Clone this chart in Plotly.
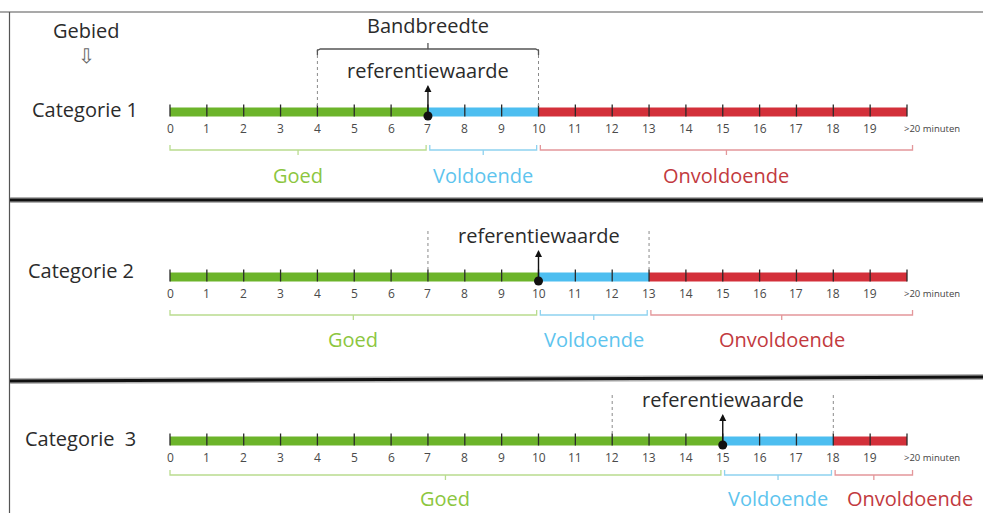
import plotly.graph_objects as go

# ---------------- data ----------------
categories = ["Categorie 1", "Categorie 2", "Categorie  3"]
reference_values = [7, 10, 15]
band_lower = [4, 7, 12]
band_upper = [10, 13, 18]
scale_max = 20
tick_values = [0, 1, 2, 3, 4, 5, 6, 7, 8, 9, 10, 11, 12, 13, 14, 15, 16, 17, 18, 19, 20]
tick_labels = ["0", "1", "2", "3", "4", "5", "6", "7", "8", "9", "10",
               "11", "12", "13", "14", "15", "16", "17", "18", "19", ">20 minuten"]
zone_names = ["Goed", "Voldoende", "Onvoldoende"]
header_label = "Gebied"
band_label = "Bandbreedte"
reference_label = "referentiewaarde"

# ---------------- layout / style ----------------
W, H = 983, 513
PX0, PX_UNIT = 170.0, 36.85
row_y = [112, 277, 441]
bracket_off = [38, 38, 34]
label_off = [63, 62, 57]
cat_pos = [(85, -3), (81, -7), (80, -3)]
zone_bar_colors = ["#6cb42a", "#4dbef0", "#d3303a"]
zone_text_colors = ["#8cc640", "#5ec4ee", "#c23a3e"]
zone_bracket_colors = ["#b9dc8f", "#8fd2ef", "#e3979a"]
FONT = "Open Sans"
TEXT_COLOR = "#2b2b2b"
BIG = 20


def px(p):
    """page pixel -> paper x"""
    return p / W


fig = go.Figure()
shapes = []
annotations = []


def add_line(xs, ys, color, width, dash="solid"):
    fig.add_trace(go.Scatter(x=xs, y=ys, mode="lines", hoverinfo="skip",
                             line=dict(color=color, width=width, dash=dash)))


def bracket_below(a, b, y, color):
    mid = (a + b) / 2
    add_line([a, a, b, b, None, mid, mid],
             [y - 5, y, y, y - 5, None, y, y + 5], color, 1.3)


for i, cat in enumerate(categories):
    ry = row_y[i]
    ref = reference_values[i]
    lo, hi = band_lower[i], band_upper[i]
    bounds = [(0, ref), (ref, hi), (hi, scale_max)]

    # coloured scale bar
    for (a, b), col in zip(bounds, zone_bar_colors):
        shapes.append(dict(type="rect", xref="x", yref="y", x0=a, x1=b,
                           y0=ry - 4.5, y1=ry + 4.5, fillcolor=col,
                           line=dict(width=0), layer="below"))
    # tick marks
    tx, ty = [], []
    for t in tick_values:
        tx += [t, t, None]
        ty += [ry - 7.5, ry + 4.5, None]
    add_line(tx, ty, "#2a2a2a", 1.3)
    # tick labels
    for t, lab in zip(tick_values, tick_labels):
        if t == scale_max:
            annotations.append(dict(x=t, y=ry + 16, xref="x", yref="y", text=lab,
                                    showarrow=False, xanchor="left", xshift=-5,
                                    font=dict(family=FONT, size=9.5, color="#444")))
        else:
            annotations.append(dict(x=t, y=ry + 16, xref="x", yref="y", text=lab,
                                    showarrow=False, xanchor="center",
                                    font=dict(family=FONT, size=12, color="#4a4a4a")))

    # dotted band lines
    top = ry - 63 if i == 0 else ry - 46
    for v in (lo, hi):
        add_line([v, v], [top, ry - 4.5], "#8a8a8a", 1, "dot")

    # band bracket for first row
    if i == 0:
        by = ry - 63
        mid = (lo + hi) / 2
        add_line([lo, lo, lo + 0.08, hi - 0.08, hi, hi, None, mid, mid],
                 [by + 6, by + 1.5, by, by, by + 1.5, by + 6, None, by, by - 6],
                 "#555555", 1.3)
        annotations.append(dict(x=mid, y=by - 24, xref="x", yref="y", text=band_label,
                                showarrow=False,
                                font=dict(family=FONT, size=BIG, color=TEXT_COLOR)))

    # reference arrow + dot
    annotations.append(dict(x=ref, y=ry - 27, xref="x", yref="y", ax=ref, ay=ry + 4,
                            axref="x", ayref="y", text="", showarrow=True,
                            arrowhead=2, arrowsize=1, arrowwidth=1.4,
                            arrowcolor="#111"))
    fig.add_trace(go.Scatter(x=[ref], y=[ry + 4], mode="markers", hoverinfo="skip",
                             marker=dict(color="#111", size=9)))
    annotations.append(dict(x=ref, y=ry - 42, xref="x", yref="y", text=reference_label,
                            showarrow=False,
                            font=dict(family=FONT, size=BIG, color=TEXT_COLOR)))

    # zone brackets + labels
    gap = 0.05
    zone_spans = [(0, ref - gap), (ref + gap, hi - gap), (hi + gap, scale_max + 0.15)]
    for z, ((a, b), name) in enumerate(zip(zone_spans, zone_names)):
        bracket_below(a, b, ry + bracket_off[i], zone_bracket_colors[z])
        shift = 36 if (i == 2 and z == 2) else 0
        annotations.append(dict(x=(a + b) / 2, y=ry + label_off[i], xref="x", yref="y",
                                text=name, showarrow=False, xshift=shift,
                                font=dict(family=FONT, size=BIG, color=zone_text_colors[z])))

    # category label
    cx, cdy = cat_pos[i]
    annotations.append(dict(x=px(cx), y=ry + cdy, xref="paper", yref="y",
                            text=cat, showarrow=False, xanchor="center",
                            font=dict(family=FONT, size=BIG, color=TEXT_COLOR)))

# header
annotations.append(dict(x=px(86), y=30, xref="paper", yref="y", text=header_label,
                        showarrow=False, xanchor="center",
                        font=dict(family=FONT, size=BIG, color=TEXT_COLOR)))
annotations.append(dict(x=px(86), y=56, xref="paper", yref="y", text="⇩",
                        showarrow=False, xanchor="center",
                        font=dict(family="DejaVu Sans", size=20, color="#666")))

# frame lines
shapes.append(dict(type="line", xref="paper", yref="y", x0=0, x1=1, y0=12, y1=12,
                   line=dict(color="#555", width=1.2)))
shapes.append(dict(type="line", xref="paper", yref="y", x0=px(9.5), x1=px(9.5), y0=12, y1=H,
                   line=dict(color="#555", width=1.2)))
for sy0, sy1 in ((200, 200), (381, 377)):
    shapes.append(dict(type="line", xref="paper", yref="y", x0=px(10), x1=1,
                       y0=sy0, y1=sy1, line=dict(color="#b0b0b0", width=6)))
    shapes.append(dict(type="line", xref="paper", yref="y", x0=px(10), x1=1,
                       y0=sy0, y1=sy1, line=dict(color="#111", width=3)))

fig.update_layout(
    width=W, height=H,
    margin=dict(l=0, r=0, t=0, b=0),
    paper_bgcolor="white", plot_bgcolor="white",
    showlegend=False,
    xaxis=dict(range=[-PX0 / PX_UNIT, (W - PX0) / PX_UNIT], visible=False,
               fixedrange=True),
    yaxis=dict(range=[H, 0], visible=False, fixedrange=True),
    shapes=shapes,
    annotations=annotations,
)

fig.write_html("out.html",
               config={"displayModeBar": False},
               post_script="document.body.style.margin='0';document.body.style.overflow='hidden';")
